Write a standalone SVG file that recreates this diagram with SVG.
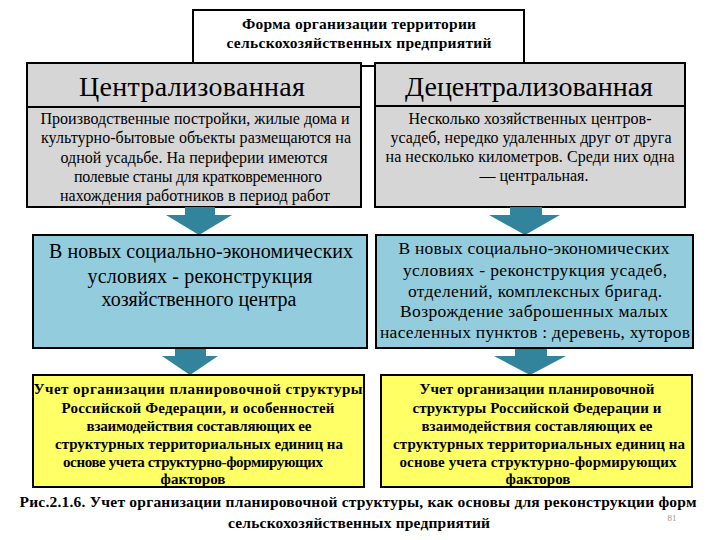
<svg xmlns="http://www.w3.org/2000/svg" width="720" height="540" viewBox="0 0 720 540" font-family="Liberation Serif" text-anchor="middle">
<style>
.box{stroke:#000;stroke-width:2}
.gray{fill:#d6d6d6}
.blue{fill:#93cddd}
.yel{fill:#ffff66}
.arr{fill:#31849b}
</style>
<rect width="720" height="540" fill="#fff"/>
<g id="top" font-family="Liberation Serif" font-size="15.5" font-weight="bold">
<rect class="box" x="193" y="10" width="331" height="56" fill="#fff"/>
<text x="359" y="29" textLength="234">Форма организации территории</text>
<text x="359" y="48" textLength="265">сельскохозяйственных предприятий</text>
</g>
<g id="central" font-family="Liberation Serif" font-size="16">
<rect class="box gray" x="27" y="63" width="334" height="144"/>
<line x1="27" y1="107" x2="361" y2="107" stroke="#000" stroke-width="2"/>
<text x="192" y="96" font-size="28" textLength="226">Централизованная</text>
<text x="195" y="124" textLength="309">Производственные постройки, жилые дома и</text>
<text x="196" y="143" textLength="310">культурно-бытовые объекты размещаются на</text>
<text x="194" y="163" textLength="267">одной усадьбе. На периферии имеются</text>
<text x="198" y="182" textLength="248">полевые станы для кратковременного</text>
<text x="195" y="201" textLength="270">нахождения работников в период работ</text>
</g>
<g id="decentral" font-family="Liberation Serif" font-size="16">
<rect class="box gray" x="375" y="63" width="310" height="144"/>
<line x1="375" y1="106" x2="685" y2="106" stroke="#000" stroke-width="2"/>
<text x="529" y="96" font-size="28" textLength="248">Децентрализованная</text>
<text x="530" y="124" textLength="243">Несколько хозяйственных центров-</text>
<text x="531" y="143" textLength="281">усадеб, нередко удаленных друг от друга</text>
<text x="530" y="162" textLength="289">на несколько километров. Среди них одна</text>
<text x="534" y="181">— центральная.</text>
</g>
<g id="connectors">
<path class="arr" d="M185 207H215V215H232L199 235L166 215H185Z"/>
<path class="arr" d="M510 207H542V215H560L525 235L489 215H510Z"/>
<path class="arr" d="M175 348H206V356H218L190 375L162 356H175Z"/>
<path class="arr" d="M515 348H547V356H566L530 375L494 356H515Z"/>
</g>
<g id="blue-left" font-family="Liberation Serif" font-size="20">
<rect class="box blue" x="33" y="235" width="334" height="113"/>
<text x="201" y="258" textLength="304">В новых социально-экономических</text>
<text x="200" y="283" textLength="225">условиях - реконструкция</text>
<text x="199" y="306" textLength="195">хозяйственного центра</text>
</g>
<g id="blue-right" font-family="Liberation Serif" font-size="17.5">
<rect class="box blue" x="376" y="235" width="317" height="113"/>
<text x="534" y="254" textLength="271">В новых социально-экономических</text>
<text x="535" y="276" textLength="264">условиях - реконструкция  усадеб,</text>
<text x="535" y="297" textLength="254">отделений, комплексных бригад.</text>
<text x="534" y="317" textLength="268">Возрождение заброшенных малых</text>
<text x="535" y="338" textLength="310">населенных пунктов : деревень, хуторов</text>
</g>
<g id="yellow-left" font-family="Liberation Serif" font-size="15" font-weight="bold">
<rect class="box yel" x="33" y="375" width="331" height="112"/>
<text x="198" y="394" textLength="329">Учет организации планировочной структуры</text>
<text x="198" y="413" textLength="273">Российской Федерации, и особенностей</text>
<text x="199" y="431" textLength="225">взаимодействия составляющих ее</text>
<text x="199" y="449" textLength="288">структурных территориальных единиц на</text>
<text x="193" y="467" textLength="260">основе учета структурно-формирующих</text>
<text x="193" y="484">факторов</text>
</g>
<g id="yellow-right" font-family="Liberation Serif" font-size="15" font-weight="bold">
<rect class="box yel" x="381" y="375" width="311" height="112"/>
<text x="537" y="394" textLength="235">Учет организации планировочной</text>
<text x="537" y="413" textLength="249">структуры Российской Федерации и</text>
<text x="537" y="431" textLength="231">взаимодействия составляющих ее</text>
<text x="539" y="449" textLength="292">структурных территориальных единиц на</text>
<text x="538" y="467" textLength="277">основе учета структурно-формирующих</text>
<text x="538" y="484">факторов</text>
</g>
<g id="caption" font-family="Liberation Serif" font-size="15.5" font-weight="bold">
<text x="358" y="507" textLength="677">Рис.2.1.6. Учет организации планировочной структуры, как основы для реконструкции форм</text>
<text x="359" y="528" textLength="262">сельскохозяйственных предприятий</text>
<text x="672" y="521" font-size="9" font-weight="normal" fill="#999">81</text>
</g>
</svg>
